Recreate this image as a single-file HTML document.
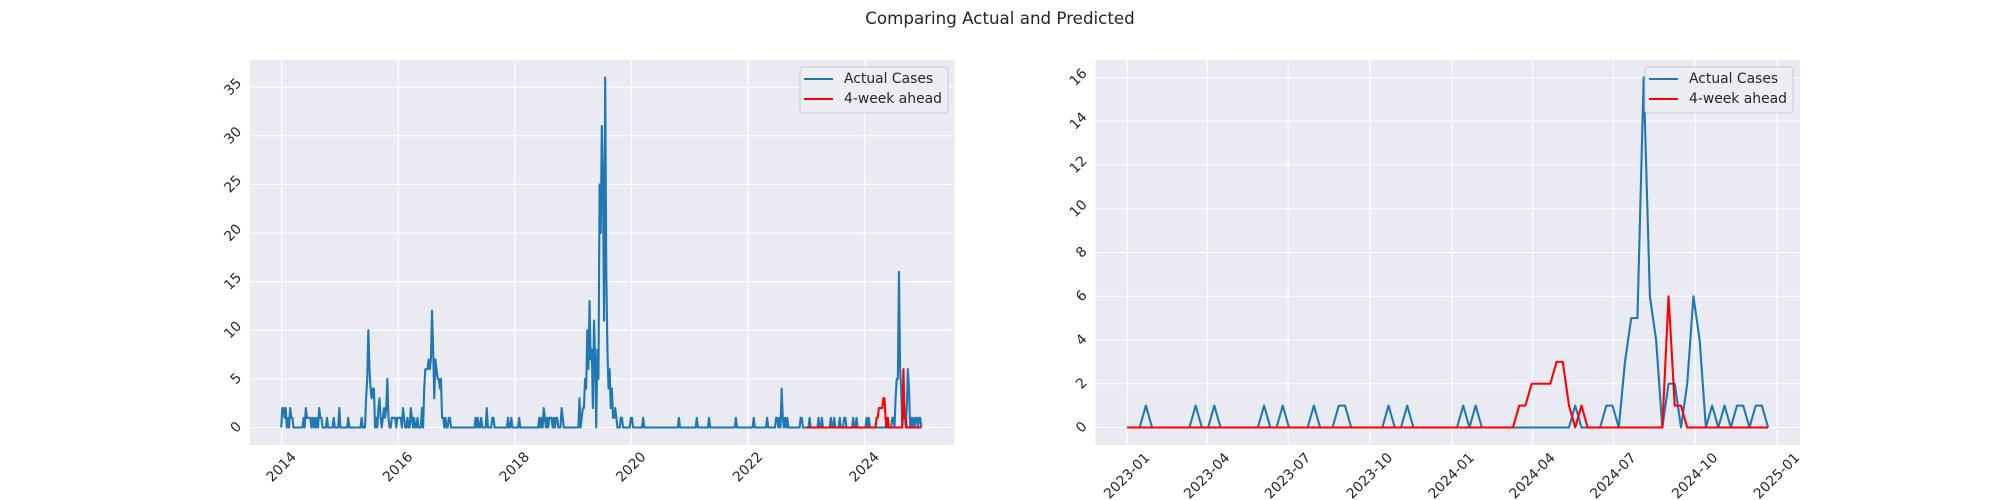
<!DOCTYPE html>
<html><head><meta charset="utf-8">
<style>
html,body{margin:0;padding:0;background:#fff;}
svg{display:block;font-family:"DejaVu Sans","Liberation Sans",sans-serif;}
</style></head>
<body>
<svg id="fig" width="2000" height="500" viewBox="0 0 2000 500" xmlns="http://www.w3.org/2000/svg">
<text x="1000" y="24" text-anchor="middle" font-size="16.7" fill="#262626">Comparing Actual and Predicted</text>
<g id="left"></g>
<g id="right"></g>
</svg>
<script>
// Historical weekly cases 2014-2022 (sparse: week index -> value, others zero)
const histWeeks = [1,2,3,4,6,8,9,10,20,22,23,24,25,26,28,30,32,34,35,36,41,47,52,60,72,76,77,78,79,80,81,82,83,85,87,88,89,91,92,93,94,95,96,99,100,101,102,104,105,106,107,109,110,113,116,117,119,122,126,128,129,130,131,132,133,134,135,136,137,138,139,140,141,142,143,144,145,147,150,151,174,176,179,184,189,190,203,206,213,231,233,235,236,238,240,241,242,244,246,247,251,252,267,269,270,271,272,273,274,275,276,277,278,279,280,281,283,284,285,286,287,288,289,290,291,292,293,294,295,296,297,298,299,300,304,305,313,314,324,356,372,383,407,423,435,443,444,446,448,449,451,453,465,466];
const histVals  = [2,2,1,2,1,2,1,1,1,2,1,1,1,1,1,1,1,2,1,1,1,1,2,1,1,3,5,10,6,4,3,4,4,1,2,3,1,1,2,1,2,5,1,1,1,1,1,1,1,1,1,2,1,1,2,1,1,1,2,4,6,6,6,7,6,7,12,8,3,7,6,5,5,4,5,1,1,1,1,1,1,1,1,2,1,1,1,1,1,1,1,2,1,1,1,1,1,1,1,1,2,1,3,1,2,2,5,4,10,6,13,7,8,2,11,7,8,5,25,20,31,25,11,36,16,8,4,6,2,4,1,1,2,1,1,1,1,1,1,1,1,1,1,1,1,1,1,1,4,1,1,1,1,1];
const histLength = 470;
// Recent weekly series 2023-01-01 .. 2024-12 (104 weeks)
const recentActual = [0,0,0,1,0,0,0,0,0,0,0,1,0,0,1,0,0,0,0,0,0,0,1,0,0,1,0,0,0,0,1,0,0,0,1,1,0,0,0,0,0,0,1,0,0,1,0,0,0,0,0,0,0,0,1,0,1,0,0,0,0,0,0,0,0,0,0,0,0,0,0,0,1,0,0,0,0,1,1,0,3,5,5,16,6,4,0,2,2,0,2,6,4,0,1,0,1,0,1,1,0,1,1,0];
const recentPred   = [0,0,0,0,0,0,0,0,0,0,0,0,0,0,0,0,0,0,0,0,0,0,0,0,0,0,0,0,0,0,0,0,0,0,0,0,0,0,0,0,0,0,0,0,0,0,0,0,0,0,0,0,0,0,0,0,0,0,0,0,0,0,0,1,1,2,2,2,2,3,3,1,0,1,0,0,0,0,0,0,0,0,0,0,0,0,0,6,1,1,0,0,0,0,0,0,0,0,0,0,0,0,0,0];
const leftYTicks = [0,5,10,15,20,25,30,35];
const rightYTicks = [0,2,4,6,8,10,12,14,16];
const leftXTicks = ["2014","2016","2018","2020","2022","2024"];
const rightXTicks = ["2023-01","2023-04","2023-07","2023-10","2024-01","2024-04","2024-07","2024-10","2025-01"];
const seriesNames = ["Actual Cases","4-week ahead"];

const NS="http://www.w3.org/2000/svg";
const DAY=86400000;
const recentStart=Date.UTC(2023,0,1);
function mk(tag,attrs,parent){const e=document.createElementNS(NS,tag);for(const k in attrs)e.setAttribute(k,attrs[k]);parent.appendChild(e);return e;}
function parseTick(s){const p=s.split("-");return Date.UTC(+p[0],p.length>1?+p[1]-1:0,1);}

const hist=new Array(histLength).fill(0);
histWeeks.forEach((w,i)=>{hist[w]=histVals[i];});
const allActual=hist.concat(recentActual);
const allDates=allActual.map((v,i)=>recentStart+(i-histLength)*7*DAY);
const recentDates=recentActual.map((v,i)=>recentStart+i*7*DAY);

function panel(g,x0,x1,y0,y1,xmin,xmax,ymin,ymax,xticks,yticks,series,legendX){
  const W=x1-x0,H=y1-y0;
  const xs=t=>x0+(t-xmin)/(xmax-xmin)*W;
  const ys=v=>y1-(v-ymin)/(ymax-ymin)*H;
  const bg=mk("rect",{x:x0,y:y0,width:W,height:H,fill:"#eaeaf2"},g);
  
  
  xticks.forEach(s=>{
    const t=parseTick(s);const x=xs(t);
    const l=mk("line",{x1:x,x2:x,y1:y0,y2:y1,stroke:"#fff","stroke-width":1.1},g);
    
    
    const w=s.length*8.3,h=13;const ext=(w+h)/Math.SQRT2;const cy=y1+6+ext/2;
    const tx=mk("text",{x:x,y:cy,"text-anchor":"middle","dominant-baseline":"central","font-size":13.9,fill:"#262626",transform:`rotate(-45 ${x} ${cy})`},g);
    tx.textContent=s;
    
    
  });
  yticks.forEach(v=>{
    const y=ys(v);
    const l=mk("line",{x1:x0,x2:x1,y1:y,y2:y,stroke:"#fff","stroke-width":1.1},g);
    
    
    const s=String(v);const w=s.length*8.8,h=13;const ext=(w+h)/Math.SQRT2;const cx=x0-6-ext/2;
    const tx=mk("text",{x:cx,y:y,"text-anchor":"middle","dominant-baseline":"central","font-size":13.9,fill:"#262626",transform:`rotate(-45 ${cx} ${y})`},g);
    tx.textContent=s;
    
    
  });
  series.forEach(sr=>{
    const pts=sr.vals.map((v,i)=>xs(sr.dates[i]).toFixed(2)+","+ys(v).toFixed(2)).join(" ");
    const pl=mk("polyline",{points:pts,fill:"none",stroke:sr.color,"stroke-width":2.1,"stroke-linejoin":"round"},g);
    
    
  });
  const lg=mk("g",{},g);
  
  
  mk("rect",{x:legendX,y:y0+7,width:148,height:46,rx:3,fill:"#eaeaf2",stroke:"#cccccc","stroke-width":1},lg);
  mk("rect",{x:legendX+0.5,y:y0+7.5,width:147,height:45,rx:3,fill:"#ffffff","fill-opacity":0.15},lg);
  series.forEach((sr,i)=>{
    const yy=y0+19+i*20;
    const e=mk("g",{},lg);
    
    
    mk("line",{x1:legendX+4,x2:legendX+33,y1:yy,y2:yy,stroke:sr.color,"stroke-width":2.1},e);
    const t=mk("text",{x:legendX+44,y:yy,"dominant-baseline":"central","font-size":13.9,fill:"#262626"},e);
    t.textContent=seriesNames[i];
  });
}

// Left: full history
const lx0=250,lx1=954.5,py0=60,py1=445;
const lpx=(parseTick("2024")-parseTick("2014"))/(864.5-281.7);
const lxmin=parseTick("2014")-(281.7-lx0)*lpx, lxmax=lxmin+(lx1-lx0)*lpx;
panel(document.getElementById("left"),lx0,lx1,py0,py1,lxmin,lxmax,-1.8,37.8,leftXTicks,leftYTicks,
  [{vals:allActual,dates:allDates,color:"#1f77b4",name:"actual-cases-line"},
   {vals:recentPred,dates:recentDates,color:"#ff0000",name:"4-week-ahead-line"}],800);

// Right: recent 2 years
const rx0=1095.5,rx1=1800;
const rpx=(parseTick("2025-01")-parseTick("2023-01"))/(1777-1127.2);
const rxmin=parseTick("2023-01")-(1127.2-rx0)*rpx, rxmax=rxmin+(rx1-rx0)*rpx;
panel(document.getElementById("right"),rx0,rx1,py0,py1,rxmin,rxmax,-0.8,16.8,rightXTicks,rightYTicks,
  [{vals:recentActual,dates:recentDates,color:"#1f77b4",name:"actual-cases-line"},
   {vals:recentPred,dates:recentDates,color:"#ff0000",name:"4-week-ahead-line"}],1645);
</script>
</body></html>
